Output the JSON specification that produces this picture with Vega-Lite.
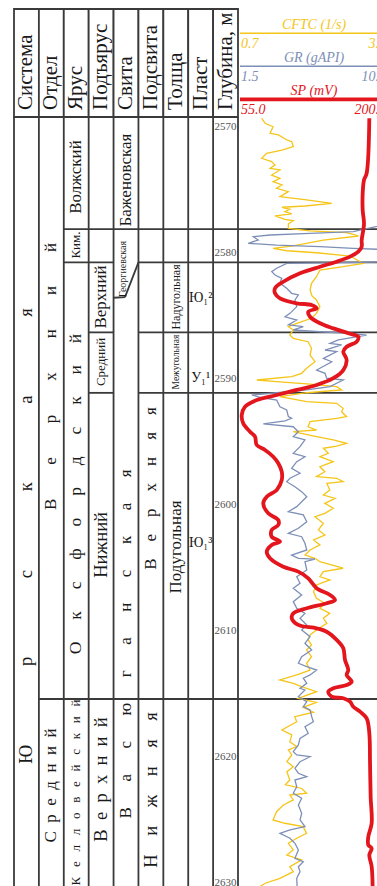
{
"$schema": "https://vega.github.io/schema/vega-lite/v6.json",
"width": 377, "height": 886, "autosize": "none", "padding": 0,
"background": "white",
"config": {"view": {"stroke": null}, "font": "Liberation Serif"},
"datasets": {
"head": [
{"col":"Система","c1":0,"c2":1,"row":"header"},
{"col":"Отдел","c1":1,"c2":2,"row":"header"},
{"col":"Ярус","c1":2,"c2":3,"row":"header"},
{"col":"Подъярус","c1":3,"c2":4,"row":"header"},
{"col":"Свита","c1":4,"c2":5,"row":"header"},
{"col":"Подсвита","c1":5,"c2":6,"row":"header"},
{"col":"Толща","c1":6,"c2":7,"row":"header"},
{"col":"Пласт","c1":7,"c2":8,"row":"header"},
{"col":"Глубина, м","c1":8,"c2":9,"row":"header"}
],
"grid": [
{"c1":0,"c2":0,"d1":2569.21,"d2":2631},
{"c1":1,"c2":1,"d1":2569.21,"d2":2631},
{"c1":2,"c2":2,"d1":2569.21,"d2":2631},
{"c1":3,"c2":3,"d1":2569.21,"d2":2631},
{"c1":4,"c2":4,"d1":2569.21,"d2":2631},
{"c1":5,"c2":5,"d1":2569.21,"d2":2631},
{"c1":6,"c2":6,"d1":2569.21,"d2":2631},
{"c1":7,"c2":7,"d1":2569.21,"d2":2631},
{"c1":8,"c2":8,"d1":2569.21,"d2":2631},
{"c1":9,"c2":9,"d1":2569.21,"d2":2631},
{"c1":2,"c2":15,"d1":2578.1,"d2":2578.1},
{"c1":2,"c2":4,"d1":2580.75,"d2":2580.75},
{"c1":5,"c2":15,"d1":2580.75,"d2":2580.75},
{"c1":5,"c2":4.46,"d1":2580.75,"d2":2583.5},
{"c1":4,"c2":4.46,"d1":2583.55,"d2":2583.5},
{"c1":3,"c2":4,"d1":2586.3,"d2":2586.3},
{"c1":5,"c2":15,"d1":2586.3,"d2":2586.3},
{"c1":3,"c2":4,"d1":2591.1,"d2":2591.1},
{"c1":5,"c2":15,"d1":2591.1,"d2":2591.1},
{"c1":1,"c2":15,"d1":2615.4,"d2":2615.4}
],
"lblA": [
{"col":"Система","label":"Ю\u00a0\u00a0\u00a0\u00a0\u00a0\u00a0\u00a0\u00a0\u00a0\u00a0\u00a0\u00a0\u00a0\u00a0\u00a0\u00a0\u00a0р\u00a0\u00a0\u00a0\u00a0\u00a0\u00a0\u00a0\u00a0\u00a0\u00a0\u00a0\u00a0\u00a0\u00a0\u00a0\u00a0\u00a0с\u00a0\u00a0\u00a0\u00a0\u00a0\u00a0\u00a0\u00a0\u00a0\u00a0\u00a0\u00a0\u00a0\u00a0\u00a0\u00a0\u00a0к\u00a0\u00a0\u00a0\u00a0\u00a0\u00a0\u00a0\u00a0\u00a0\u00a0\u00a0\u00a0\u00a0\u00a0\u00a0\u00a0\u00a0а\u00a0\u00a0\u00a0\u00a0\u00a0\u00a0\u00a0\u00a0\u00a0\u00a0\u00a0\u00a0\u00a0\u00a0\u00a0\u00a0\u00a0я","depth":2602.46},
{"col":"Подъярус","label":"Нижний","depth":2603.17},
{"col":"Подъярус","label":"В\u00a0\u00a0е\u00a0\u00a0р\u00a0\u00a0х\u00a0\u00a0н\u00a0\u00a0и\u00a0\u00a0й","depth":2621.79},
{"col":"Подсвита","label":"Н\u00a0\u00a0\u00a0\u00a0и\u00a0\u00a0\u00a0\u00a0ж\u00a0\u00a0\u00a0\u00a0н\u00a0\u00a0\u00a0\u00a0я\u00a0\u00a0\u00a0\u00a0я","depth":2622.62}
],
"lblA2": [
{"col":"Ярус","label":"О\u00a0\u00a0\u00a0\u00a0\u00a0к\u00a0\u00a0\u00a0\u00a0\u00a0с\u00a0\u00a0\u00a0\u00a0\u00a0ф\u00a0\u00a0\u00a0\u00a0\u00a0о\u00a0\u00a0\u00a0\u00a0\u00a0р\u00a0\u00a0\u00a0\u00a0\u00a0д\u00a0\u00a0\u00a0\u00a0\u00a0с\u00a0\u00a0\u00a0\u00a0\u00a0к\u00a0\u00a0\u00a0\u00a0\u00a0и\u00a0\u00a0\u00a0\u00a0\u00a0й","depth":2599.13}
],
"lblB": [
{"col":"Отдел","label":"В\u00a0\u00a0\u00a0\u00a0\u00a0\u00a0\u00a0\u00a0е\u00a0\u00a0\u00a0\u00a0\u00a0\u00a0\u00a0\u00a0р\u00a0\u00a0\u00a0\u00a0\u00a0\u00a0\u00a0\u00a0х\u00a0\u00a0\u00a0\u00a0\u00a0\u00a0\u00a0\u00a0н\u00a0\u00a0\u00a0\u00a0\u00a0\u00a0\u00a0\u00a0и\u00a0\u00a0\u00a0\u00a0\u00a0\u00a0\u00a0\u00a0й","depth":2589.8},
{"col":"Отдел","label":"С\u00a0\u00a0р\u00a0\u00a0е\u00a0\u00a0д\u00a0\u00a0н\u00a0\u00a0и\u00a0\u00a0й","depth":2622.26},
{"col":"Ярус","label":"Волжский","depth":2573.97},
{"col":"Подъярус","label":"Верхний","depth":2583.49},
{"col":"Свита","label":"Баженовская","depth":2574.21},
{"col":"Свита","label":"В\u00a0\u00a0\u00a0\u00a0\u00a0\u00a0а\u00a0\u00a0\u00a0\u00a0\u00a0\u00a0с\u00a0\u00a0\u00a0\u00a0\u00a0\u00a0ю\u00a0\u00a0\u00a0\u00a0\u00a0\u00a0г\u00a0\u00a0\u00a0\u00a0\u00a0\u00a0а\u00a0\u00a0\u00a0\u00a0\u00a0\u00a0н\u00a0\u00a0\u00a0\u00a0\u00a0\u00a0с\u00a0\u00a0\u00a0\u00a0\u00a0\u00a0к\u00a0\u00a0\u00a0\u00a0\u00a0\u00a0а\u00a0\u00a0\u00a0\u00a0\u00a0\u00a0я","depth":2611.03},
{"col":"Подсвита","label":"В\u00a0\u00a0\u00a0\u00a0е\u00a0\u00a0\u00a0\u00a0р\u00a0\u00a0\u00a0\u00a0х\u00a0\u00a0\u00a0\u00a0н\u00a0\u00a0\u00a0\u00a0я\u00a0\u00a0\u00a0\u00a0я","depth":2598.69},
{"col":"Толща","label":"Подугольная","depth":2603.33}
],
"lblC": [
{"col":"Ярус","label":"Ким.","depth":2579.37},
{"col":"Ярус","label":"К\u00a0\u00a0\u00a0е\u00a0\u00a0\u00a0л\u00a0\u00a0\u00a0л\u00a0\u00a0\u00a0о\u00a0\u00a0\u00a0в\u00a0\u00a0\u00a0е\u00a0\u00a0\u00a0й\u00a0\u00a0\u00a0с\u00a0\u00a0\u00a0к\u00a0\u00a0\u00a0и\u00a0\u00a0\u00a0й","depth":2622.82},
{"col":"Подъярус","label":"Средний","depth":2588.65}
],
"lblD1": [{"col":"Толща","label":"Надугольная","depth":2583.49}],
"lblD2": [{"col":"Толща","label":"Межугольная","depth":2588.65}],
"lblE": [{"col":"Свита","label":"Георгиевская","depth":2581.27}],
"plast": [
{"col":"Пласт","label":"Ю₁²","depth":2583.57},
{"col":"Пласт","label":"У₁¹","depth":2589.92},
{"col":"Пласт","label":"Ю₁³","depth":2603.02}
],
"ticks": [
{"col":"Глубина, м","depth":2570},{"col":"Глубина, м","depth":2580},{"col":"Глубина, м","depth":2590},
{"col":"Глубина, м","depth":2600},{"col":"Глубина, м","depth":2610},{"col":"Глубина, м","depth":2620},
{"col":"Глубина, м","depth":2630}
],
"tracks": [
{"curve":"CFTC (1/s)","lo":"0.7","hi":"3.7"},
{"curve":"GR (gAPI)","lo":"1.5","hi":"10.5"},
{"curve":"SP (mV)","lo":"55.0","hi":"200.0"}
],
"cftc": [
{"depth":2569.31,"cftc":1.14},{"depth":2569.71,"cftc":1.21},{"depth":2569.98,"cftc":1.37},{"depth":2570.5,"cftc":1.31},
{"depth":2570.63,"cftc":1.48},{"depth":2571.03,"cftc":1.65},{"depth":2571.17,"cftc":1.75},{"depth":2571.56,"cftc":1.78},
{"depth":2571.83,"cftc":1.55},{"depth":2572.09,"cftc":1.24},{"depth":2572.48,"cftc":1.14},{"depth":2572.75,"cftc":1.34},
{"depth":2573.02,"cftc":1.41},{"depth":2573.28,"cftc":1.31},{"depth":2573.41,"cftc":1.51},{"depth":2573.81,"cftc":1.34},
{"depth":2574.07,"cftc":1.51},{"depth":2574.34,"cftc":1.37},{"depth":2574.6,"cftc":1.55},{"depth":2574.87,"cftc":1.44},
{"depth":2575.13,"cftc":1.68},{"depth":2575.53,"cftc":1.51},{"depth":2575.79,"cftc":2.05},{"depth":2576.06,"cftc":2.56},
{"depth":2576.27,"cftc":2.02},{"depth":2576.37,"cftc":1.55},{"depth":2576.53,"cftc":1.71},{"depth":2576.72,"cftc":1.61},
{"depth":2576.9,"cftc":1.75},{"depth":2577.06,"cftc":1.41},{"depth":2577.33,"cftc":1.61},{"depth":2577.44,"cftc":1.78},
{"depth":2577.7,"cftc":1.68},{"depth":2578.04,"cftc":1.68},{"depth":2578.25,"cftc":2.12},{"depth":2578.39,"cftc":2.86},
{"depth":2578.65,"cftc":3.1},{"depth":2578.97,"cftc":2.39},{"depth":2579.44,"cftc":1.78},{"depth":2579.63,"cftc":1.37},
{"depth":2579.82,"cftc":1.65},{"depth":2579.98,"cftc":2.25},{"depth":2580.24,"cftc":2.93},{"depth":2580.82,"cftc":3.2},
{"depth":2581.09,"cftc":2.79},{"depth":2581.35,"cftc":2.32},{"depth":2581.88,"cftc":2.25},{"depth":2582.4,"cftc":2.15},
{"depth":2582.94,"cftc":2.12},{"depth":2583.41,"cftc":2.16},{"depth":2583.73,"cftc":2.25},{"depth":2584.26,"cftc":2.32},
{"depth":2584.79,"cftc":2.25},{"depth":2585.18,"cftc":2.15},{"depth":2585.58,"cftc":1.85},{"depth":2585.85,"cftc":1.68},
{"depth":2586.11,"cftc":1.78},{"depth":2586.51,"cftc":1.71},{"depth":2586.77,"cftc":1.78},{"depth":2587.04,"cftc":2.08},
{"depth":2587.56,"cftc":2.15},{"depth":2588.1,"cftc":2.12},{"depth":2588.63,"cftc":2.22},{"depth":2589.15,"cftc":2.05},
{"depth":2589.55,"cftc":1.95},{"depth":2589.82,"cftc":1.75},{"depth":2590.08,"cftc":1.04},{"depth":2590.21,"cftc":1.44},
{"depth":2590.4,"cftc":2.12},{"depth":2590.61,"cftc":2.66},{"depth":2590.87,"cftc":2.76},{"depth":2591.09,"cftc":2.05},
{"depth":2591.4,"cftc":1.51},{"depth":2591.8,"cftc":2.05},{"depth":2591.93,"cftc":2.66},{"depth":2592.33,"cftc":2.79},
{"depth":2592.6,"cftc":2.76},{"depth":2592.99,"cftc":2.86},{"depth":2593.12,"cftc":2.66},{"depth":2593.39,"cftc":2.12},
{"depth":2593.79,"cftc":2.08},{"depth":2594.05,"cftc":2.25},{"depth":2594.18,"cftc":1.78},{"depth":2594.58,"cftc":2.25},
{"depth":2594.84,"cftc":2.59},{"depth":2595.1,"cftc":2.86},{"depth":2595.32,"cftc":2.66},{"depth":2595.5,"cftc":2.39},
{"depth":2595.9,"cftc":2.49},{"depth":2596.17,"cftc":2.32},{"depth":2596.56,"cftc":2.59},{"depth":2596.96,"cftc":2.32},
{"depth":2597.36,"cftc":2.42},{"depth":2597.75,"cftc":2.25},{"depth":2597.88,"cftc":2.66},{"depth":2598.15,"cftc":2.79},
{"depth":2598.28,"cftc":2.46},{"depth":2598.81,"cftc":2.52},{"depth":2599.21,"cftc":2.39},{"depth":2599.47,"cftc":2.63},
{"depth":2599.87,"cftc":2.42},{"depth":2600.26,"cftc":2.59},{"depth":2600.66,"cftc":2.42},{"depth":2600.93,"cftc":2.22},
{"depth":2601.45,"cftc":2.39},{"depth":2601.98,"cftc":2.29},{"depth":2602.38,"cftc":2.42},{"depth":2602.78,"cftc":2.19},
{"depth":2603.17,"cftc":2.32},{"depth":2603.57,"cftc":2.12},{"depth":2603.97,"cftc":2.02},{"depth":2604.23,"cftc":2.22},
{"depth":2604.5,"cftc":2.32},{"depth":2605.02,"cftc":2.79},{"depth":2605.29,"cftc":2.39},{"depth":2605.69,"cftc":2.32},
{"depth":2605.95,"cftc":2.52},{"depth":2606.35,"cftc":2.25},{"depth":2606.88,"cftc":2.19},{"depth":2607.4,"cftc":2.25},
{"depth":2607.8,"cftc":2.42},{"depth":2608.2,"cftc":2.32},{"depth":2608.6,"cftc":2.52},{"depth":2608.99,"cftc":2.39},
{"depth":2609.39,"cftc":2.46},{"depth":2609.92,"cftc":2.25},{"depth":2610.32,"cftc":2.12},{"depth":2610.71,"cftc":2.08},
{"depth":2611.11,"cftc":2.15},{"depth":2611.51,"cftc":2.05},{"depth":2612.04,"cftc":2.15},{"depth":2612.56,"cftc":2.05},
{"depth":2613.1,"cftc":2.12},{"depth":2613.49,"cftc":1.85},{"depth":2613.89,"cftc":1.51},{"depth":2614.15,"cftc":1.78},
{"depth":2614.42,"cftc":1.95},{"depth":2614.82,"cftc":2.25},{"depth":2615.34,"cftc":1.88},{"depth":2615.66,"cftc":2.25},
{"depth":2616.06,"cftc":1.98},{"depth":2616.45,"cftc":2.19},{"depth":2616.8,"cftc":1.81},{"depth":2617.2,"cftc":1.85},
{"depth":2617.86,"cftc":1.55},{"depth":2618.25,"cftc":1.75},{"depth":2618.79,"cftc":1.71},{"depth":2619.18,"cftc":1.85},
{"depth":2619.44,"cftc":1.68},{"depth":2619.84,"cftc":1.75},{"depth":2620.37,"cftc":1.65},{"depth":2620.77,"cftc":1.78},
{"depth":2621.17,"cftc":1.65},{"depth":2621.83,"cftc":1.71},{"depth":2622.2,"cftc":1.62},{"depth":2622.5,"cftc":1.95},
{"depth":2622.88,"cftc":2.05},{"depth":2623.02,"cftc":1.71},{"depth":2623.41,"cftc":1.78},{"depth":2623.81,"cftc":1.58},
{"depth":2624.34,"cftc":1.44},{"depth":2625.0,"cftc":1.37},{"depth":2625.26,"cftc":1.61},{"depth":2625.53,"cftc":1.98},
{"depth":2626.06,"cftc":2.05},{"depth":2626.45,"cftc":1.85},{"depth":2626.85,"cftc":1.68},{"depth":2627.38,"cftc":1.78},
{"depth":2627.78,"cftc":1.65},{"depth":2628.17,"cftc":1.95},{"depth":2628.71,"cftc":1.71},{"depth":2629.1,"cftc":1.78},
{"depth":2629.63,"cftc":1.51},{"depth":2630.02,"cftc":1.21},{"depth":2630.56,"cftc":1.0}
],
"gr": [
{"depth":2577.54,"gr":11.0},{"depth":2578.31,"gr":8.39},{"depth":2578.44,"gr":5.76},{"depth":2578.57,"gr":3.32},
{"depth":2578.71,"gr":2.31},{"depth":2578.97,"gr":2.61},{"depth":2579.23,"gr":2.0},{"depth":2579.37,"gr":3.73},
{"depth":2579.5,"gr":6.36},{"depth":2579.63,"gr":8.39},{"depth":2579.76,"gr":11.0},{"depth":2580.71,"gr":11.0},
{"depth":2580.82,"gr":4.34},{"depth":2581.21,"gr":3.73},{"depth":2581.48,"gr":3.43},{"depth":2581.75,"gr":3.63},
{"depth":2582.01,"gr":4.04},{"depth":2582.4,"gr":3.93},{"depth":2582.8,"gr":4.34},{"depth":2583.2,"gr":4.64},
{"depth":2583.33,"gr":5.05},{"depth":2583.73,"gr":4.84},{"depth":2584.26,"gr":4.95},{"depth":2584.79,"gr":4.54},
{"depth":2585.06,"gr":4.24},{"depth":2585.32,"gr":4.95},{"depth":2585.71,"gr":4.44},{"depth":2585.85,"gr":5.35},
{"depth":2586.11,"gr":4.74},{"depth":2586.25,"gr":6.36},{"depth":2586.37,"gr":8.19},{"depth":2586.51,"gr":9.2},
{"depth":2586.9,"gr":7.48},{"depth":2587.17,"gr":6.97},{"depth":2587.3,"gr":7.68},{"depth":2587.7,"gr":6.67},
{"depth":2587.83,"gr":7.38},{"depth":2588.36,"gr":6.57},{"depth":2588.63,"gr":7.08},{"depth":2589.29,"gr":6.16},
{"depth":2589.55,"gr":6.67},{"depth":2589.94,"gr":6.77},{"depth":2590.08,"gr":7.78},{"depth":2590.61,"gr":6.97},
{"depth":2590.87,"gr":5.56},{"depth":2591.09,"gr":3.73},{"depth":2591.27,"gr":2.21},{"depth":2591.45,"gr":2.72},
{"depth":2591.67,"gr":3.73},{"depth":2592.2,"gr":3.93},{"depth":2592.46,"gr":4.34},{"depth":2592.99,"gr":4.44},
{"depth":2593.12,"gr":4.64},{"depth":2593.33,"gr":4.24},{"depth":2593.57,"gr":2.92},{"depth":2593.79,"gr":4.74},
{"depth":2594.18,"gr":5.05},{"depth":2594.58,"gr":4.74},{"depth":2594.84,"gr":5.45},{"depth":2595.37,"gr":5.15},
{"depth":2595.9,"gr":4.74},{"depth":2596.17,"gr":5.45},{"depth":2596.56,"gr":4.95},{"depth":2597.09,"gr":4.64},
{"depth":2597.48,"gr":5.15},{"depth":2597.88,"gr":4.54},{"depth":2598.15,"gr":4.34},{"depth":2598.55,"gr":4.84},
{"depth":2598.94,"gr":5.25},{"depth":2599.34,"gr":5.56},{"depth":2599.74,"gr":5.25},{"depth":2600.13,"gr":4.95},
{"depth":2600.53,"gr":4.44},{"depth":2600.79,"gr":5.35},{"depth":2601.33,"gr":5.56},{"depth":2601.85,"gr":5.05},
{"depth":2602.25,"gr":4.44},{"depth":2602.52,"gr":5.25},{"depth":2603.04,"gr":5.45},{"depth":2603.57,"gr":5.56},
{"depth":2603.97,"gr":4.64},{"depth":2604.23,"gr":5.05},{"depth":2604.29,"gr":6.06},{"depth":2604.5,"gr":5.45},
{"depth":2605.16,"gr":5.56},{"depth":2605.69,"gr":4.95},{"depth":2606.21,"gr":5.15},{"depth":2606.61,"gr":4.74},
{"depth":2607.14,"gr":5.25},{"depth":2607.67,"gr":4.74},{"depth":2608.2,"gr":4.95},{"depth":2608.6,"gr":5.45},
{"depth":2608.99,"gr":5.15},{"depth":2609.52,"gr":5.56},{"depth":2609.92,"gr":5.25},{"depth":2610.45,"gr":5.76},
{"depth":2610.98,"gr":5.45},{"depth":2611.51,"gr":5.86},{"depth":2612.04,"gr":5.25},{"depth":2612.56,"gr":5.05},
{"depth":2612.83,"gr":5.56},{"depth":2613.1,"gr":6.16},{"depth":2613.49,"gr":5.76},{"depth":2613.75,"gr":5.35},
{"depth":2614.15,"gr":5.56},{"depth":2614.55,"gr":5.15},{"depth":2614.68,"gr":5.45},{"depth":2615.21,"gr":5.05},
{"depth":2615.61,"gr":5.56},{"depth":2616.01,"gr":5.35},{"depth":2616.27,"gr":5.76},{"depth":2616.8,"gr":5.86},
{"depth":2617.2,"gr":5.96},{"depth":2617.6,"gr":5.45},{"depth":2618.12,"gr":5.65},{"depth":2618.52,"gr":5.15},
{"depth":2619.05,"gr":5.05},{"depth":2619.58,"gr":4.74},{"depth":2619.84,"gr":4.95},{"depth":2619.98,"gr":5.76},
{"depth":2620.37,"gr":5.15},{"depth":2620.9,"gr":4.84},{"depth":2621.29,"gr":5.05},{"depth":2621.56,"gr":5.56},
{"depth":2621.83,"gr":4.84},{"depth":2622.36,"gr":4.95},{"depth":2622.88,"gr":4.74},{"depth":2623.28,"gr":5.25},
{"depth":2623.81,"gr":5.05},{"depth":2624.47,"gr":5.25},{"depth":2625.0,"gr":5.15},{"depth":2625.53,"gr":5.45},
{"depth":2625.79,"gr":4.54},{"depth":2626.06,"gr":3.93},{"depth":2626.45,"gr":4.54},{"depth":2626.85,"gr":4.84},
{"depth":2627.38,"gr":5.05},{"depth":2628.04,"gr":4.84},{"depth":2628.31,"gr":5.35},{"depth":2628.71,"gr":5.05},
{"depth":2629.1,"gr":5.15},{"depth":2629.63,"gr":4.95},{"depth":2630.4,"gr":4.98}
],
"sp": [
{"depth":2569.31,"sp":181.7},{"depth":2573.67,"sp":179.1},{"depth":2574.21,"sp":176.5},{"depth":2575.26,"sp":175.2},
{"depth":2576.59,"sp":175.2},{"depth":2577.64,"sp":176.5},{"depth":2578.17,"sp":175.8},{"depth":2578.97,"sp":174.2},
{"depth":2579.5,"sp":174.2},{"depth":2579.9,"sp":170.9},{"depth":2580.29,"sp":162.8},{"depth":2580.69,"sp":149.7},
{"depth":2581.09,"sp":133.4},{"depth":2581.61,"sp":113.8},{"depth":2582.28,"sp":97.4},{"depth":2582.8,"sp":89.3},
{"depth":2583.2,"sp":89.3},{"depth":2583.6,"sp":94.2},{"depth":2583.99,"sp":110.5},{"depth":2584.13,"sp":125.2},
{"depth":2584.39,"sp":130.1},{"depth":2584.66,"sp":121.9},{"depth":2585.06,"sp":123.6},{"depth":2585.58,"sp":133.4},
{"depth":2585.98,"sp":146.4},{"depth":2586.37,"sp":161.1},{"depth":2586.64,"sp":170.9},{"depth":2587.04,"sp":169.3},
{"depth":2587.44,"sp":159.5},{"depth":2587.83,"sp":156.2},{"depth":2588.49,"sp":159.5},{"depth":2589.29,"sp":156.2},
{"depth":2589.94,"sp":146.4},{"depth":2590.48,"sp":130.1},{"depth":2590.87,"sp":110.5},{"depth":2591.27,"sp":91.0},
{"depth":2591.67,"sp":71.4},{"depth":2592.2,"sp":59.9},{"depth":2592.86,"sp":56.7},{"depth":2593.52,"sp":58.2},
{"depth":2594.18,"sp":64.8},{"depth":2594.58,"sp":69.7},{"depth":2595.24,"sp":71.4},{"depth":2595.63,"sp":79.5},
{"depth":2596.17,"sp":87.6},{"depth":2596.69,"sp":92.5},{"depth":2597.36,"sp":95.9},{"depth":2598.02,"sp":95.9},
{"depth":2598.81,"sp":91.0},{"depth":2599.34,"sp":81.2},{"depth":2599.87,"sp":77.8},{"depth":2600.66,"sp":82.7},
{"depth":2601.19,"sp":92.5},{"depth":2601.59,"sp":92.5},{"depth":2601.98,"sp":86.1},{"depth":2602.52,"sp":86.1},
{"depth":2602.91,"sp":94.2},{"depth":2603.17,"sp":86.1},{"depth":2603.71,"sp":81.2},{"depth":2604.23,"sp":84.4},
{"depth":2604.9,"sp":97.4},{"depth":2605.29,"sp":112.1},{"depth":2605.82,"sp":121.9},{"depth":2606.61,"sp":130.1},
{"depth":2607.14,"sp":143.2},{"depth":2607.54,"sp":148.1},{"depth":2607.8,"sp":139.9},{"depth":2608.2,"sp":120.3},
{"depth":2608.6,"sp":107.2},{"depth":2608.99,"sp":105.7},{"depth":2609.52,"sp":112.1},{"depth":2609.79,"sp":130.1},
{"depth":2610.06,"sp":139.9},{"depth":2610.71,"sp":149.7},{"depth":2611.37,"sp":156.2},{"depth":2612.3,"sp":157.9},
{"depth":2613.1,"sp":161.1},{"depth":2613.49,"sp":159.5},{"depth":2614.02,"sp":164.4},{"depth":2614.29,"sp":159.5},
{"depth":2614.55,"sp":146.4},{"depth":2614.82,"sp":141.5},{"depth":2615.21,"sp":144.8},{"depth":2615.34,"sp":156.2},
{"depth":2615.61,"sp":162.8},{"depth":2616.01,"sp":166.0},{"depth":2616.4,"sp":172.6},{"depth":2616.93,"sp":179.1},
{"depth":2618.12,"sp":181.7},{"depth":2620.5,"sp":182.4},{"depth":2623.15,"sp":183.0},{"depth":2625.26,"sp":184.0},
{"depth":2626.33,"sp":180.7},{"depth":2626.98,"sp":180.7},{"depth":2627.25,"sp":184.0},{"depth":2627.78,"sp":181.7},
{"depth":2628.71,"sp":184.0},{"depth":2630.5,"sp":185.0}
]
},
"layer": [
{"data": {"name": "head"},
 "mark": {"type": "rect", "fill": "white", "stroke": "#3a3a3a", "strokeWidth": 1.8},
 "encoding": {
  "x": {"field": "c1", "type": "quantitative", "scale": {"domain": [0, 9], "range": [14, 238], "zero": false, "nice": false}, "axis": null},
  "x2": {"field": "c2"},
  "y": {"field": "row", "type": "nominal", "scale": {"type": "band", "domain": ["header"], "range": [9, 117], "paddingInner": 0, "paddingOuter": 0}, "axis": null}
 }},
{"data": {"name": "head"},
 "mark": {"type": "text", "angle": 270, "align": "left", "baseline": "middle", "fontSize": 21, "font": "Liberation Serif", "color": "#1a1a1a"},
 "encoding": {
  "x": {"field": "col", "type": "nominal", "scale": {"type": "point", "domain": ["Система","Отдел","Ярус","Подъярус","Свита","Подсвита","Толща","Пласт","Глубина, м"], "range": [14, 238], "padding": 0.5}, "axis": null},
  "y": {"field": "row", "type": "nominal", "bandPosition": 0.935, "scale": {"type": "band", "domain": ["header"], "range": [9, 117], "paddingInner": 0, "paddingOuter": 0}, "axis": null},
  "text": {"field": "col"}
 }},
{"data": {"name": "grid"},
 "mark": {"type": "rule", "color": "#3a3a3a", "strokeWidth": 1.8},
 "encoding": {
  "x": {"field": "c1", "type": "quantitative", "scale": {"domain": [0, 9], "range": [14, 238], "zero": false, "nice": false}, "axis": null},
  "x2": {"field": "c2"},
  "y": {"field": "d1", "type": "quantitative", "scale": {"domain": [2559.92, 2630.24], "range": [0, 886], "zero": false, "nice": false}, "axis": null},
  "y2": {"field": "d2"}
 }},
{"data": {"name": "lblA"},
 "mark": {"type": "text", "angle": 270, "align": "center", "baseline": "middle", "fontSize": 18.5, "font": "Liberation Serif", "color": "#1a1a1a"},
 "encoding": {
  "x": {"field": "col", "type": "nominal", "scale": {"type": "point", "domain": ["Система","Отдел","Ярус","Подъярус","Свита","Подсвита","Толща","Пласт","Глубина, м"], "range": [14, 238], "padding": 0.5}, "axis": null},
  "y": {"field": "depth", "type": "quantitative", "scale": {"domain": [2559.92, 2630.24], "range": [0, 886], "zero": false, "nice": false}, "axis": null},
  "text": {"field": "label"}
 }},
{"data": {"name": "lblA2"},
 "mark": {"type": "text", "angle": 270, "align": "center", "baseline": "middle", "fontSize": 17.5, "font": "Liberation Serif", "color": "#1a1a1a"},
 "encoding": {
  "x": {"field": "col", "type": "nominal", "scale": {"type": "point", "domain": ["Система","Отдел","Ярус","Подъярус","Свита","Подсвита","Толща","Пласт","Глубина, м"], "range": [14, 238], "padding": 0.5}, "axis": null},
  "y": {"field": "depth", "type": "quantitative", "scale": {"domain": [2559.92, 2630.24], "range": [0, 886], "zero": false, "nice": false}, "axis": null},
  "text": {"field": "label"}
 }},
{"data": {"name": "lblB"},
 "mark": {"type": "text", "angle": 270, "align": "center", "baseline": "middle", "fontSize": 17, "font": "Liberation Serif", "color": "#1a1a1a"},
 "encoding": {
  "x": {"field": "col", "type": "nominal", "scale": {"type": "point", "domain": ["Система","Отдел","Ярус","Подъярус","Свита","Подсвита","Толща","Пласт","Глубина, м"], "range": [14, 238], "padding": 0.5}, "axis": null},
  "y": {"field": "depth", "type": "quantitative", "scale": {"domain": [2559.92, 2630.24], "range": [0, 886], "zero": false, "nice": false}, "axis": null},
  "text": {"field": "label"}
 }},
{"data": {"name": "lblC"},
 "mark": {"type": "text", "angle": 270, "align": "center", "baseline": "middle", "fontSize": 13, "font": "Liberation Serif", "color": "#1a1a1a"},
 "encoding": {
  "x": {"field": "col", "type": "nominal", "scale": {"type": "point", "domain": ["Система","Отдел","Ярус","Подъярус","Свита","Подсвита","Толща","Пласт","Глубина, м"], "range": [14, 238], "padding": 0.5}, "axis": null},
  "y": {"field": "depth", "type": "quantitative", "scale": {"domain": [2559.92, 2630.24], "range": [0, 886], "zero": false, "nice": false}, "axis": null},
  "text": {"field": "label"}
 }},
{"data": {"name": "lblD1"},
 "mark": {"type": "text", "angle": 270, "align": "center", "baseline": "middle", "fontSize": 12, "font": "Liberation Serif", "color": "#1a1a1a"},
 "encoding": {
  "x": {"field": "col", "type": "nominal", "scale": {"type": "point", "domain": ["Система","Отдел","Ярус","Подъярус","Свита","Подсвита","Толща","Пласт","Глубина, м"], "range": [14, 238], "padding": 0.5}, "axis": null},
  "y": {"field": "depth", "type": "quantitative", "scale": {"domain": [2559.92, 2630.24], "range": [0, 886], "zero": false, "nice": false}, "axis": null},
  "text": {"field": "label"}
 }},
{"data": {"name": "lblD2"},
 "mark": {"type": "text", "angle": 270, "align": "center", "baseline": "middle", "fontSize": 9.5, "font": "Liberation Serif", "color": "#1a1a1a"},
 "encoding": {
  "x": {"field": "col", "type": "nominal", "scale": {"type": "point", "domain": ["Система","Отдел","Ярус","Подъярус","Свита","Подсвита","Толща","Пласт","Глубина, м"], "range": [14, 238], "padding": 0.5}, "axis": null},
  "y": {"field": "depth", "type": "quantitative", "scale": {"domain": [2559.92, 2630.24], "range": [0, 886], "zero": false, "nice": false}, "axis": null},
  "text": {"field": "label"}
 }},
{"data": {"name": "lblE"},
 "mark": {"type": "text", "angle": 270, "align": "center", "baseline": "middle", "fontSize": 10, "dy": -3.5, "font": "Liberation Serif", "color": "#1a1a1a"},
 "encoding": {
  "x": {"field": "col", "type": "nominal", "scale": {"type": "point", "domain": ["Система","Отдел","Ярус","Подъярус","Свита","Подсвита","Толща","Пласт","Глубина, м"], "range": [14, 238], "padding": 0.5}, "axis": null},
  "y": {"field": "depth", "type": "quantitative", "scale": {"domain": [2559.92, 2630.24], "range": [0, 886], "zero": false, "nice": false}, "axis": null},
  "text": {"field": "label"}
 }},
{"data": {"name": "plast"},
 "mark": {"type": "text", "align": "center", "baseline": "middle", "fontSize": 14, "font": "Liberation Serif", "color": "#1a1a1a"},
 "encoding": {
  "x": {"field": "col", "type": "nominal", "scale": {"type": "point", "domain": ["Система","Отдел","Ярус","Подъярус","Свита","Подсвита","Толща","Пласт","Глубина, м"], "range": [14, 238], "padding": 0.5}, "axis": null},
  "y": {"field": "depth", "type": "quantitative", "scale": {"domain": [2559.92, 2630.24], "range": [0, 886], "zero": false, "nice": false}, "axis": null},
  "text": {"field": "label"}
 }},
{"data": {"name": "ticks"},
 "mark": {"type": "text", "align": "center", "baseline": "middle", "fontSize": 11, "font": "Liberation Serif", "color": "#555555"},
 "encoding": {
  "x": {"field": "col", "type": "nominal", "scale": {"type": "point", "domain": ["Система","Отдел","Ярус","Подъярус","Свита","Подсвита","Толща","Пласт","Глубина, м"], "range": [14, 238], "padding": 0.5}, "axis": null},
  "y": {"field": "depth", "type": "quantitative", "scale": {"domain": [2559.92, 2630.24], "range": [0, 886], "zero": false, "nice": false}, "axis": null},
  "text": {"field": "depth", "type": "quantitative", "format": "d"}
 }},
{"data": {"name": "cftc"},
 "mark": {"type": "line", "color": "#f5c518", "strokeWidth": 1.3, "clip": true},
 "encoding": {
  "x": {"field": "cftc", "type": "quantitative", "scale": {"domain": [0.7, 3.7], "range": [240, 388], "zero": false, "nice": false}, "axis": null},
  "y": {"field": "depth", "type": "quantitative", "scale": {"domain": [2559.92, 2630.24], "range": [0, 886], "zero": false, "nice": false}, "axis": null},
  "order": {"field": "depth", "type": "quantitative"}
 }},
{"data": {"name": "gr"},
 "mark": {"type": "line", "color": "#7d8fb7", "strokeWidth": 1.3, "clip": true},
 "encoding": {
  "x": {"field": "gr", "type": "quantitative", "scale": {"domain": [1.5, 10.5], "range": [240, 388], "zero": false, "nice": false}, "axis": null},
  "y": {"field": "depth", "type": "quantitative", "scale": {"domain": [2559.92, 2630.24], "range": [0, 886], "zero": false, "nice": false}, "axis": null},
  "order": {"field": "depth", "type": "quantitative"}
 }},
{"data": {"name": "sp"},
 "mark": {"type": "line", "color": "#e3151d", "strokeWidth": 3.8, "interpolate": "catmull-rom", "clip": true},
 "encoding": {
  "x": {"field": "sp", "type": "quantitative", "scale": {"domain": [55, 200], "range": [240, 388], "zero": false, "nice": false}, "axis": null},
  "y": {"field": "depth", "type": "quantitative", "scale": {"domain": [2559.92, 2630.24], "range": [0, 886], "zero": false, "nice": false}, "axis": null},
  "order": {"field": "depth", "type": "quantitative"}
 }},
{"data": {"name": "tracks"},
 "transform": [{"filter": "datum.curve != 'SP (mV)'"}],
 "mark": {"type": "rule", "strokeWidth": 1.5},
 "encoding": {
  "x": {"datum": 0, "type": "quantitative", "scale": {"domain": [0, 1], "range": [240, 388], "zero": false, "nice": false}, "axis": null},
  "x2": {"datum": 1},
  "y": {"field": "curve", "type": "nominal", "scale": {"type": "point", "domain": ["CFTC (1/s)", "GR (gAPI)", "SP (mV)"], "range": [33.3, 99.3], "padding": 0}, "axis": null},
  "color": {"field": "curve", "type": "nominal", "scale": {"domain": ["CFTC (1/s)", "GR (gAPI)", "SP (mV)"], "range": ["#f5c518", "#7d8fb7", "#e3151d"]}, "legend": null}
 }},
{"data": {"name": "tracks"},
 "transform": [{"filter": "datum.curve == 'SP (mV)'"}],
 "mark": {"type": "rule", "strokeWidth": 3.8},
 "encoding": {
  "x": {"datum": 0, "type": "quantitative", "scale": {"domain": [0, 1], "range": [240, 388], "zero": false, "nice": false}, "axis": null},
  "x2": {"datum": 1},
  "y": {"field": "curve", "type": "nominal", "scale": {"type": "point", "domain": ["CFTC (1/s)", "GR (gAPI)", "SP (mV)"], "range": [33.3, 99.3], "padding": 0}, "axis": null},
  "color": {"field": "curve", "type": "nominal", "scale": {"domain": ["CFTC (1/s)", "GR (gAPI)", "SP (mV)"], "range": ["#f5c518", "#7d8fb7", "#e3151d"]}, "legend": null}
 }},
{"data": {"name": "tracks"},
 "mark": {"type": "text", "align": "center", "baseline": "middle", "dy": -8.5, "fontSize": 14, "fontStyle": "italic", "font": "Liberation Serif"},
 "encoding": {
  "x": {"datum": 0.5, "type": "quantitative", "scale": {"domain": [0, 1], "range": [240, 388], "zero": false, "nice": false}, "axis": null},
  "y": {"field": "curve", "type": "nominal", "scale": {"type": "point", "domain": ["CFTC (1/s)", "GR (gAPI)", "SP (mV)"], "range": [33.3, 99.3], "padding": 0}, "axis": null},
  "text": {"field": "curve"},
  "color": {"field": "curve", "type": "nominal", "scale": {"domain": ["CFTC (1/s)", "GR (gAPI)", "SP (mV)"], "range": ["#f5c518", "#7d8fb7", "#e3151d"]}, "legend": null}
 }},
{"data": {"name": "tracks"},
 "mark": {"type": "text", "align": "left", "baseline": "middle", "dx": 1, "dy": 10.5, "fontSize": 14, "fontStyle": "italic", "font": "Liberation Serif"},
 "encoding": {
  "x": {"datum": 0, "type": "quantitative", "scale": {"domain": [0, 1], "range": [240, 388], "zero": false, "nice": false}, "axis": null},
  "y": {"field": "curve", "type": "nominal", "scale": {"type": "point", "domain": ["CFTC (1/s)", "GR (gAPI)", "SP (mV)"], "range": [33.3, 99.3], "padding": 0}, "axis": null},
  "text": {"field": "lo"},
  "color": {"field": "curve", "type": "nominal", "scale": {"domain": ["CFTC (1/s)", "GR (gAPI)", "SP (mV)"], "range": ["#f5c518", "#7d8fb7", "#e3151d"]}, "legend": null}
 }},
{"data": {"name": "tracks"},
 "mark": {"type": "text", "align": "right", "baseline": "middle", "dx": -2, "dy": 10.5, "fontSize": 14, "fontStyle": "italic", "font": "Liberation Serif"},
 "encoding": {
  "x": {"datum": 1, "type": "quantitative", "scale": {"domain": [0, 1], "range": [240, 388], "zero": false, "nice": false}, "axis": null},
  "y": {"field": "curve", "type": "nominal", "scale": {"type": "point", "domain": ["CFTC (1/s)", "GR (gAPI)", "SP (mV)"], "range": [33.3, 99.3], "padding": 0}, "axis": null},
  "text": {"field": "hi"},
  "color": {"field": "curve", "type": "nominal", "scale": {"domain": ["CFTC (1/s)", "GR (gAPI)", "SP (mV)"], "range": ["#f5c518", "#7d8fb7", "#e3151d"]}, "legend": null}
 }}
],
"resolve": {"scale": {"x": "independent", "y": "independent", "color": "independent"}}
}
